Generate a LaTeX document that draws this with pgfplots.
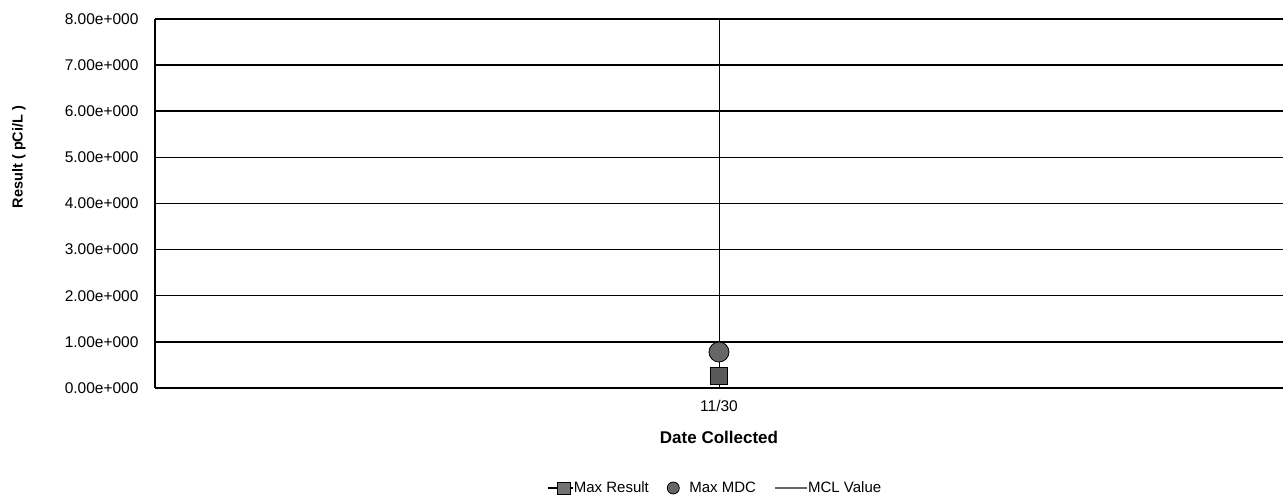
\documentclass[border=0pt]{standalone}
\usepackage{pgfplots}
\pgfplotsset{compat=1.18}
\usetikzlibrary{calc}
\usepackage{fontspec}
\setmainfont{Liberation Sans}
\begin{document}
\begin{tikzpicture}
\begin{axis}[
  name=ax,
  at={(0,0)}, anchor=south west,
  scale only axis,
  width=1128pt, height=369pt,
  xmin=-1, xmax=1, ymin=0, ymax=8,
  xtick={0}, xticklabels={11/30},
  ytick={0,1,2,3,4,5,6,7,8},
  yticklabels={0.00e+000,1.00e+000,2.00e+000,3.00e+000,4.00e+000,5.00e+000,6.00e+000,7.00e+000,8.00e+000},
  axis x line*=bottom, axis y line*=left,
  axis line style={line width=1.6pt, -},
  major tick length=0pt,
  ymajorgrids, xmajorgrids,
  every axis y grid/.style={black, line width=1.5pt},
  every axis x grid/.style={black, line width=0.9pt},
  tick label style={font=\fontsize{15.5}{17}\selectfont},
  xticklabel style={yshift=-9pt},
  yticklabel style={xshift=-13pt},
  xlabel={\textbf{Date Collected}},
  xlabel style={font=\fontsize{17}{19}\selectfont, at={(axis description cs:0.5,-0.133)}, anchor=center},
  ylabel={\textbf{Result ( pCi/L )}},
  ylabel style={font=\fontsize{14.5}{16}\selectfont, at={(axis description cs:-0.1206,0.626)}, anchor=center},
  legend style={at={(0.4956,-0.271)}, anchor=center, draw=none, fill=none,
    font=\fontsize{15}{17}\selectfont, legend columns=3,
    /tikz/every even column/.append style={column sep=18pt},
    /tikz/every odd column/.append style={column sep=0pt},
    nodes={inner xsep=0pt}},
  legend cell align=left,
  clip=false,
]
\addplot[black, line width=1.5pt, mark=square*, mark size=8.5pt,
  mark options={fill=black!65, draw=black, line width=0.8pt},
  legend image code/.code={
    \draw[black, line width=2pt] (0pt,0pt) -- (25pt,0pt);
    \draw[fill=black!55, draw=black, line width=0.8pt] (10pt,-6pt) rectangle (23pt,6pt);
  }]
  coordinates {(0,0.26)};
\addlegendentry{Max Result}
\addplot[only marks, mark=*, mark size=10pt,
  mark options={fill=black!60, draw=black, line width=0.8pt},
  legend image code/.code={
    \path[draw=none, fill=none] (0pt,0pt) rectangle (22pt,0.1pt);
    \draw[fill=black!60, draw=black, line width=0.8pt] (6pt,0pt) circle (6pt);
  }]
  coordinates {(0,0.78)};
\addlegendentry{Max MDC}
\addlegendimage{legend image code/.code={
    \draw[black!60, line width=2.2pt] (0pt,0pt) -- (32pt,0pt);
  }}
\addlegendentry{MCL Value}
\end{axis}
\pgfresetboundingbox
\useasboundingbox ($(ax.south west)+(-155pt,-111pt)$) rectangle ($(ax.north east)+(0pt,19pt)$);
\end{tikzpicture}
\end{document}
